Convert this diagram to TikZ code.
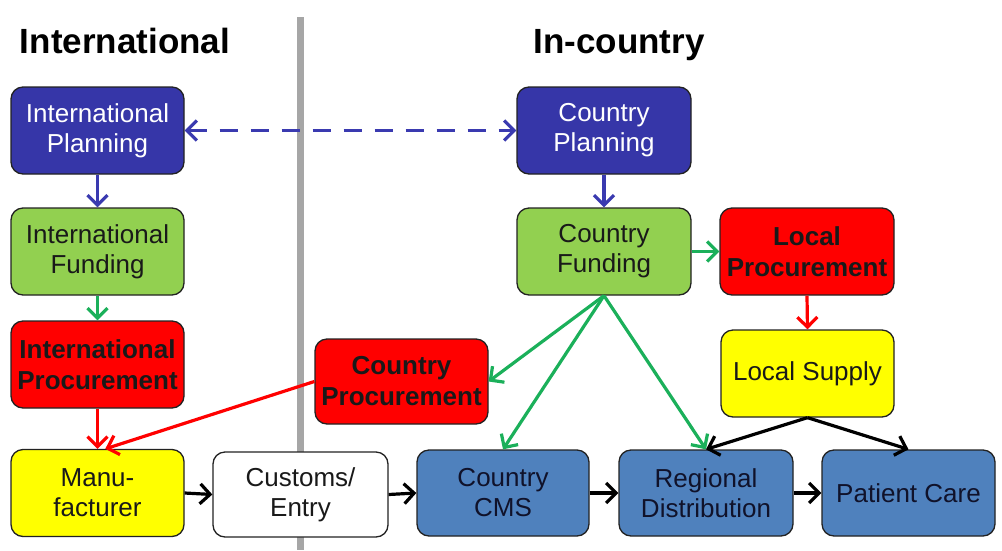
\documentclass[tikz,border=0pt]{standalone}
\usepackage{fontspec}
\setmainfont{Liberation Sans}
\usetikzlibrary{arrows.meta}
\definecolor{planblue}{HTML}{3636A8}
\definecolor{arrblue}{HTML}{3A3AB0}
\definecolor{fundgreen}{HTML}{92D050}
\definecolor{arrgreen}{HTML}{1BB05A}
\definecolor{procred}{HTML}{FF0000}
\definecolor{supyellow}{HTML}{FFFF00}
\definecolor{steel}{HTML}{4F81BD}
\definecolor{divgray}{HTML}{A6A6A6}
\definecolor{edge}{HTML}{222222}
\definecolor{darktext}{HTML}{10122A}
\tikzset{
  box/.style={draw=edge, line width=1.3pt, rounded corners=12pt, minimum width=173pt, minimum height=87pt,
    align=center, inner sep=0pt, font=\fontsize{26}{30}\selectfont, text=black!90},
  planbox/.style={box, fill=planblue, text=white},
  fundbox/.style={box, fill=fundgreen},
  procbox/.style={box, fill=procred, font=\fontsize{26}{31}\selectfont\bfseries},
  yelbox/.style={box, fill=supyellow},
  whitebox/.style={box, fill=white},
  steelbox/.style={box, fill=steel, text=darktext},
  tip/.style={Straight Barb[length=10pt,width=20pt,line width=3.2pt]},
  conn/.style={line width=3.2pt, -{Straight Barb[length=10pt,width=20pt,line width=3.2pt]}},
  blueconn/.style={conn, draw=arrblue},
  greenconn/.style={conn, draw=arrgreen},
  redconn/.style={conn, draw=procred},
  blackconn/.style={conn, draw=black},
  title/.style={font=\fontsize{35}{40}\selectfont\bfseries, anchor=base, inner sep=0pt}
}
\begin{document}
\begin{tikzpicture}[x=1pt,y=-1pt]
\useasboundingbox (0,0) rectangle (1002,550);
\draw[divgray, line width=7pt] (300.5,17) -- (300.5,550);
\node[title] (tint) at (125,53) {International};
\node[title] (tin) at (619,53) {In-country};

\node[planbox] (ip) at (97.5,130.5) {International\\Planning};
\node[fundbox] (ifu) at (97.5,251.5) {International\\Funding};
\node[procbox] (ipr) at (97.5,364.5) {International\\Procurement};
\node[yelbox] (man) at (97.5,493) {Manu-\\facturer};
\node[whitebox, minimum width=175pt, minimum height=85pt] (cus) at (300.5,494.5) {Customs/\\Entry};
\node[procbox, minimum height=85pt] (cpr) at (401.5,381.5) {Country\\Procurement};
\node[steelbox, minimum width=172pt, minimum height=86pt] (cms) at (503,493) {Country\\CMS};
\node[steelbox, minimum width=174pt, minimum height=86pt] (reg) at (706,493) {Regional\\Distribution};
\node[steelbox, minimum height=86pt] (pat) at (908.5,493) {Patient Care};
\node[yelbox] (ls) at (807.5,373.5) {Local Supply};
\node[planbox, minimum width=174pt] (cpl) at (604,130.5) {Country\\Planning};
\node[fundbox, minimum width=174pt] (cfu) at (604,251.5) {Country\\Funding};
\node[procbox, minimum width=174pt] (lpr) at (807,251.5) {Local\\Procurement};

\draw[blueconn, {Straight Barb[length=10pt,width=20pt,line width=3.2pt]}-{Straight Barb[length=10pt,width=20pt,line width=3.2pt]}, dash pattern=on 18pt off 13pt] (ip.east) -- (cpl.west);
\draw[blueconn] (ip.south) -- (ifu.north);
\draw[blueconn] (cpl.south) -- (cfu.north);

\draw[greenconn] (ifu.south) -- (ipr.north);
\draw[greenconn] (cfu.east) -- (lpr.west);
\draw[greenconn] (cfu.south) -- (cpr.east);
\draw[greenconn] (cfu.south) -- (cms.north);
\draw[greenconn] (cfu.south) -- (reg.north);

\draw[redconn] (ipr.south) -- (man.north);
\draw[redconn] (cpr.west) -- (man.80);
\draw[redconn] (lpr.south) -- (ls.north);

\draw[blackconn] (man.east) -- (cus.west);
\draw[blackconn] (cus.east) -- (cms.west);
\draw[blackconn] (cms.east) -- (reg.west);
\draw[blackconn] (reg.east) -- (pat.west);
\draw[blackconn] (ls.south) -- (reg.north);
\draw[blackconn] (ls.south) -- (pat.north);
\end{tikzpicture}
\end{document}
